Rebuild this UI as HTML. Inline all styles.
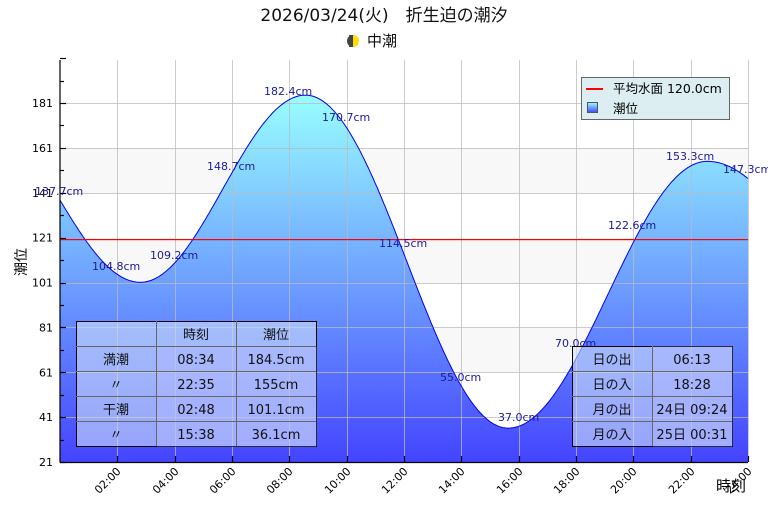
<!DOCTYPE html>
<html><head><meta charset="utf-8"><style>
body{margin:0;background:#fff;}
svg text{font-family:"DejaVu Sans","Noto Sans CJK JP",sans-serif;}
</style></head><body>
<svg id="s" width="768" height="512" xmlns="http://www.w3.org/2000/svg">
<defs>
<linearGradient id="g" x1="0" y1="94" x2="0" y2="462" gradientUnits="userSpaceOnUse">
<stop offset="0" stop-color="#99ffff"/><stop offset="1" stop-color="#4444ff"/>
</linearGradient>
<linearGradient id="lg" x1="0" y1="0" x2="0" y2="1"><stop offset="0" stop-color="#99ffff"/><stop offset="1" stop-color="#4444ff"/></linearGradient>
</defs>
<text x="384" y="21" font-size="17" text-anchor="middle" fill="#111">2026/03/24(火)　折生迫の潮汐</text>
<circle cx="353" cy="41" r="6" fill="#ffdd00"/><path d="M353,35 A6,6 0 0 0 353,47 Z" fill="#444"/><rect x="349" y="35" width="4" height="12" fill="#444"/>
<text x="367" y="46" font-size="15" fill="#111">中潮</text>
<rect x="60" y="148" width="688" height="45" fill="#f8f8f8"/>
<rect x="60" y="238" width="688" height="45" fill="#f8f8f8"/>
<rect x="60" y="328" width="688" height="45" fill="#f8f8f8"/>
<path id="fill" fill="url(#g)"/>
<g id="grid" stroke="#bbb" stroke-opacity="0.75" stroke-width="1"></g>
<path id="line" fill="none" stroke="#0000ee" stroke-width="1"/>
<rect x="60" y="239" width="688" height="1.2" fill="#ff0000"/>
<g id="axes" stroke="#000" stroke-width="1.2"></g>
<g font-size="11" fill="#000" id="yl"></g>
<g font-size="11" fill="#000" id="xl"></g>
<text transform="translate(26,262) rotate(-90)" font-size="14" text-anchor="middle">潮位</text>
<text x="731" y="491" font-size="15" text-anchor="middle">時刻</text>
<g font-size="11" fill="#1a1a99">
<text x="35" y="195">137.7cm</text>
<text x="92" y="270">104.8cm</text>
<text x="150" y="259">109.2cm</text>
<text x="207" y="170">148.7cm</text>
<text x="264" y="95">182.4cm</text>
<text x="322" y="121">170.7cm</text>
<text x="379" y="247">114.5cm</text>
<text x="440" y="381">55.0cm</text>
<text x="498" y="421">37.0cm</text>
<text x="555" y="347">70.0cm</text>
<text x="608" y="229">122.6cm</text>
<text x="666" y="160">153.3cm</text>
<text x="723" y="173">147.3cm</text>
</g>
<rect x="581.5" y="77.5" width="148" height="42" fill="#ddeef2" stroke="#666"/>
<line x1="586" y1="89" x2="603" y2="89" stroke="#f00" stroke-width="2"/>
<text x="613" y="93" font-size="12.5">平均水面 120.0cm</text>
<rect x="587.5" y="102.5" width="10" height="10" fill="url(#lg)" stroke="#555"/>
<text x="613" y="113" font-size="12.5">潮位</text>
<g stroke="#666" stroke-width="1" font-size="13">
<rect x="76.5" y="321.5" width="240" height="125" fill="#cfe0f8" fill-opacity="0.6" stroke="#000"/>
<rect x="156.5" y="346.5" width="160" height="100" fill="#b0b8ff" fill-opacity="0.45" stroke="none"/>
<line x1="156.5" y1="321" x2="156.5" y2="446"/><line x1="236.5" y1="321" x2="236.5" y2="446"/>
<line x1="76" y1="346.5" x2="316" y2="346.5"/><line x1="76" y1="371.5" x2="316" y2="371.5"/><line x1="76" y1="396.5" x2="316" y2="396.5"/><line x1="76" y1="421.5" x2="316" y2="421.5"/>
<rect x="572.5" y="346.5" width="160" height="100" fill="#cfe0f8" fill-opacity="0.6" stroke="#000"/>
<rect x="652.5" y="346.5" width="80" height="100" fill="#b0b8ff" fill-opacity="0.45" stroke="none"/>
<line x1="652.5" y1="346" x2="652.5" y2="446"/>
<line x1="572" y1="371.5" x2="732" y2="371.5"/><line x1="572" y1="396.5" x2="732" y2="396.5"/><line x1="572" y1="421.5" x2="732" y2="421.5"/>
</g>
<g font-size="13" fill="#111" text-anchor="middle" stroke="none">
<text x="196" y="339">時刻</text><text x="276" y="339">潮位</text>
<text x="116" y="364">満潮</text><text x="196" y="364">08:34</text><text x="276" y="364">184.5cm</text>
<text x="116" y="389">〃</text><text x="196" y="389">22:35</text><text x="276" y="389">155cm</text>
<text x="116" y="414">干潮</text><text x="196" y="414">02:48</text><text x="276" y="414">101.1cm</text>
<text x="116" y="439">〃</text><text x="196" y="439">15:38</text><text x="276" y="439">36.1cm</text>
<text x="612" y="364">日の出</text><text x="692" y="364">06:13</text>
<text x="612" y="389">日の入</text><text x="692" y="389">18:28</text>
<text x="612" y="414">月の出</text><text x="692" y="414">24日 09:24</text>
<text x="612" y="439">月の入</text><text x="692" y="439">25日 00:31</text>
</g>
</svg>
<script>
var X0=60,X1=748,Y0=462,Y1=103;
function px(t){return X0+t*(X1-X0)/24;}
function py(v){return Y0-(v-21)*(Y0-Y1)/160;}
var ex=[[2.8,101.1],[8.567,184.5],[15.633,36.1],[22.583,155]];
function val(t){
 if(t<ex[0][0]){var f=(1-Math.cos(Math.PI*(ex[0][0]-t)/6))/2;return 101.1+81.8*f;}
 if(t>ex[3][0]){var f=(1-Math.cos(Math.PI*(t-ex[3][0])/6.5))/2;return 155-68*f;}
 for(var i=0;i<3;i++){if(t<=ex[i+1][0]){var a=ex[i],b=ex[i+1];var f=(1-Math.cos(Math.PI*(t-a[0])/(b[0]-a[0])))/2;return a[1]+(b[1]-a[1])*f;}}
}
var d="";for(var t=0;t<=24.0001;t+=0.05){d+=(d?"L":"M")+px(t).toFixed(1)+","+py(val(t)).toFixed(1);}
document.getElementById("line").setAttribute("d",d);
document.getElementById("fill").setAttribute("d",d+"L748,462L60,462Z");
var ns="http://www.w3.org/2000/svg",g=document.getElementById("grid"),ax=document.getElementById("axes"),yl=document.getElementById("yl"),xl=document.getElementById("xl");
function L(p,a,b,c,d2){var l=document.createElementNS(ns,"line");l.setAttribute("x1",a);l.setAttribute("y1",b);l.setAttribute("x2",c);l.setAttribute("y2",d2);p.appendChild(l);}
for(var v=41;v<=181;v+=20){if(v==121)continue;var y=Math.round(py(v))+0.5;L(g,60,y,748,y);}
for(var h=2;h<=24;h+=2){var x=Math.round(px(h))+0.5;L(g,x,60,x,462);}
L(ax,60,60,60,462.5);L(ax,60,462.5,748,462.5);
for(var v=21;v<=201;v+=10){var y=Math.round(py(v))+0.5;L(ax,60,y,v%20==1?66:64,y);}
for(var v=21;v<=181;v+=20){var t=document.createElementNS(ns,"text");t.setAttribute("x",53);t.setAttribute("y",py(v)+4);t.setAttribute("text-anchor","end");t.textContent=v;yl.appendChild(t);}
for(var h=2;h<=24;h+=2){var x=Math.round(px(h))+0.5;L(ax,x,462,x,456);var t=document.createElementNS(ns,"text");t.setAttribute("transform","translate("+(x+4)+",472) rotate(-45)");t.setAttribute("text-anchor","end");t.textContent=(h<10?"0":"")+h+":00";xl.appendChild(t);}
</script>
</body></html>
